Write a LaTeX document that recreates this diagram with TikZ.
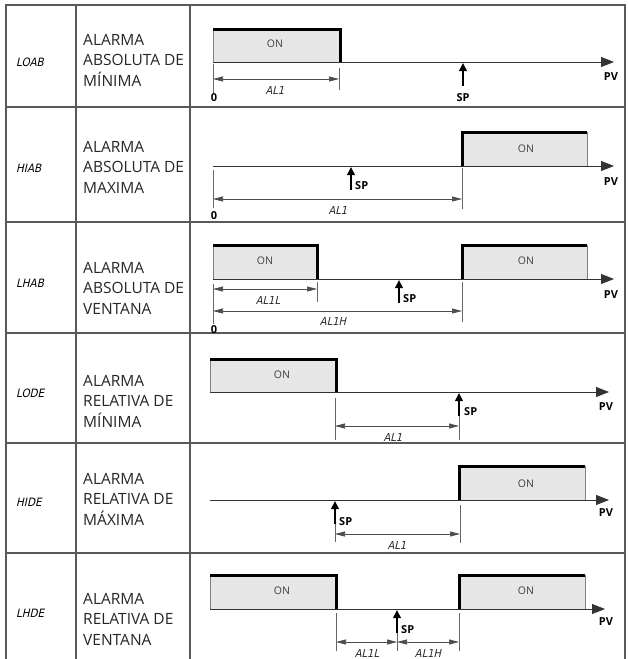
\documentclass[tikz,border=0pt]{standalone}
\usepackage{fontspec}
\setmainfont{Open Sans}
\newfontfamily\segfont[FakeSlant=0.22,FakeStretch=0.9]{DejaVu Sans}
\usetikzlibrary{arrows.meta}
\definecolor{onfill}{HTML}{E6E6E6}
\tikzset{
  tbl/.style={draw=black!65,line width=1.2pt},
  axisl/.style={draw=black!80,line width=0.8pt,-{Triangle[length=13pt,width=10pt]}},
  onbg/.style={fill=onfill,draw=black!50,line width=0.5pt},
  thk/.style={draw=black,line width=3pt},
  dimen/.style={draw=black!70,line width=0.7pt,{Triangle[length=10pt,width=5pt]}-{Triangle[length=10pt,width=5pt]}},
  tickl/.style={draw=black!60,line width=0.7pt},
  sparr/.style={draw=black,line width=2.6pt,-{Triangle[length=8pt,width=7.5pt]}},
  ontxt/.style={font=\fontsize{10.5}{12}\selectfont,text=black!75,inner sep=0pt},
  bold/.style={font=\fontsize{11}{12}\selectfont\bfseries,inner sep=0pt},
  code/.style={font=\segfont\fontsize{11.5}{13}\selectfont,inner sep=0pt,anchor=west},
  lab/.style={font=\segfont\fontsize{11}{13}\selectfont,inner sep=0pt,text=black!85},
  desc/.style={font=\fontsize{15.5}{20.5}\selectfont,align=left,anchor=west,inner sep=0pt,text=black!85},
}
\begin{document}
\begin{tikzpicture}[x=1pt,y=-1pt]
\useasboundingbox (0,0) rectangle (629,659);
% ---------- table ----------
\draw[tbl] (6,659) -- (6,5) -- (625,5) -- (625,659);
\draw[tbl] (76,5) -- (76,659);
\draw[tbl] (190,5) -- (190,659);
\foreach \yy in {107,222,333,443,553} \draw[tbl] (6,\yy) -- (625,\yy);
% ---------- left columns ----------
\node[code] (c1) at (16,62) {LOAB};
\node[code] (c2) at (16,168) {HIAB};
\node[code] (c3) at (16,283) {LHAB};
\node[code] (c4) at (16,393) {LODE};
\node[code] (c5) at (16,502) {HIDE};
\node[code] (c6) at (16,613) {LHDE};
\node[desc] (d1) at (83,60) {ALARMA\\ABSOLUTA DE\\MÍNIMA};
\node[desc] (d2) at (83,167) {ALARMA\\ABSOLUTA DE\\MAXIMA};
\node[desc] (d3) at (83,288) {ALARMA\\ABSOLUTA DE\\VENTANA};
\node[desc] (d4) at (83,401) {ALARMA\\RELATIVA DE\\MÍNIMA};
\node[desc] (d5) at (83,499) {ALARMA\\RELATIVA DE\\MÁXIMA};
\node[desc] (d6) at (83,619) {ALARMA\\RELATIVA DE\\VENTANA};
% ---------- row 1 ----------
\filldraw[onbg] (213,29) rectangle (340,62);
\draw[thk] (213,29) -- (340,29) -- (340,62);
\draw[axisl] (213,62) -- (614,62);
\node[ontxt] (on1) at (275,44) {ON};
\draw[tickl] (213,64) -- (213,93);
\draw[tickl] (339,68) -- (339,90);
\draw[dimen] (213,79) -- (339,79);
\node[lab] (l1) at (275,90) {AL1};
\node[bold] (z1) at (214,98) {0};
\draw[sparr] (463,86) -- (463,63);
\node[bold] (sp1) at (463,98) {SP};
\node[bold] (pv1) at (611,77) {PV};
% ---------- row 2 ----------
\filldraw[onbg] (462,132) rectangle (587,166);
\draw[thk] (462,166) -- (462,132) -- (587,132);
\draw[axisl] (213,166) -- (614,166);
\node[ontxt] (on2) at (526,149) {ON};
\draw[tickl] (213,170) -- (213,208);
\draw[tickl] (462,168) -- (462,209);
\draw[dimen] (213,199) -- (462,199);
\node[lab] (l2) at (338,210) {AL1};
\node[bold] (z2) at (214,216) {0};
\draw[sparr] (351,190) -- (351,167);
\node[bold,anchor=west] (sp2) at (355,186) {SP};
\node[bold] (pv2) at (611,182) {PV};
% ---------- row 3 ----------
\filldraw[onbg] (213,245) rectangle (317,279);
\draw[thk] (213,245) -- (317,245) -- (317,279);
\filldraw[onbg] (462,245) rectangle (587,279);
\draw[thk] (462,279) -- (462,245) -- (587,245);
\draw[axisl] (213,279) -- (614,279);
\node[ontxt] (on3a) at (265,261) {ON};
\node[ontxt] (on3b) at (526,261) {ON};
\draw[tickl] (213,284) -- (213,324);
\draw[tickl] (317,282) -- (317,302);
\draw[tickl] (462,282) -- (462,322);
\draw[dimen] (213,289) -- (317,289);
\draw[dimen] (213,311) -- (462,311);
\node[lab] (l3a) at (268,300) {AL1L};
\node[lab] (l3b) at (333,321) {AL1H};
\node[bold] (z3) at (214,330) {0};
\draw[sparr] (399,303) -- (399,280);
\node[bold,anchor=west] (sp3) at (403,299) {SP};
\node[bold] (pv3) at (611,295) {PV};
% ---------- row 4 ----------
\filldraw[onbg] (210,359) rectangle (336,392);
\draw[thk] (210,359) -- (336,359) -- (336,392);
\draw[axisl] (210,392) -- (609,392);
\node[ontxt] (on4) at (282,375) {ON};
\draw[tickl] (335,398) -- (335,440);
\draw[tickl] (459,410) -- (459,440);
\draw[dimen] (335,426) -- (459,426);
\node[lab] (l4) at (393,437) {AL1};
\draw[sparr] (459,416) -- (459,393);
\node[bold,anchor=west] (sp4) at (464,412) {SP};
\node[bold] (pv4) at (606,407) {PV};
% ---------- row 5 ----------
\filldraw[onbg] (459,466) rectangle (585,500);
\draw[thk] (459,500) -- (459,466) -- (585,466);
\draw[axisl] (210,500) -- (609,500);
\node[ontxt] (on5) at (526,484) {ON};
\draw[tickl] (335,515) -- (335,542);
\draw[tickl] (460,505) -- (460,543);
\draw[dimen] (335,534) -- (460,534);
\node[lab] (l5) at (397,545) {AL1};
\draw[sparr] (335,524) -- (335,501);
\node[bold,anchor=west] (sp5) at (339,522) {SP};
\node[bold] (pv5) at (606,513) {PV};
% ---------- row 6 ----------
\filldraw[onbg] (210,575) rectangle (336,609);
\draw[thk] (210,575) -- (336,575) -- (336,609);
\filldraw[onbg] (459,575) rectangle (585,609);
\draw[thk] (459,609) -- (459,575) -- (585,575);
\draw[axisl] (210,609) -- (605,609);
\node[ontxt] (on6a) at (282,591) {ON};
\node[ontxt] (on6b) at (526,591) {ON};
\draw[tickl] (336,613) -- (336,651);
\draw[tickl] (397,625) -- (397,651);
\draw[tickl] (459,613) -- (459,651);
\draw[dimen] (336,642) -- (397,642);
\draw[dimen] (397,642) -- (459,642);
\node[lab] (l6a) at (367,653) {AL1L};
\node[lab] (l6b) at (428,653) {AL1H};
\draw[sparr] (397,633) -- (397,610);
\node[bold,anchor=west] (sp6) at (401,630) {SP};
\node[bold] (pv6) at (606,622) {PV};
\end{tikzpicture}
\end{document}
